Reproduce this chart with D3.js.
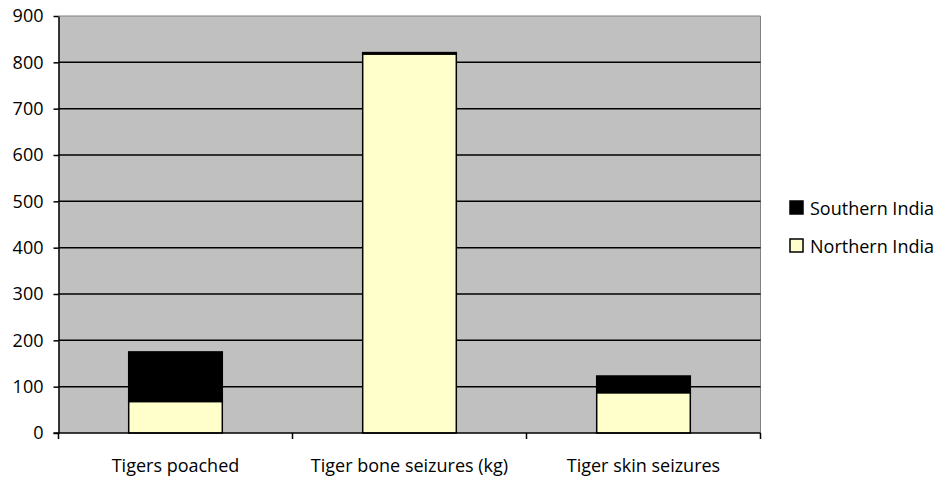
<!DOCTYPE html>
<html><head><meta charset="utf-8">
<script src="https://cdn.jsdelivr.net/npm/d3@7"></script>
<style>body{margin:0;background:#fff}svg{display:block}text{font-family:"Open Sans",Arial,sans-serif;font-size:18px;fill:#000}</style>
</head><body><svg id="c" width="942" height="480"></svg>
<script>
const categories = ["Tigers poached", "Tiger bone seizures (kg)", "Tiger skin seizures"];
const northern = [68, 818, 87];
const southern = [107, 3, 36];
const seriesNames = ["Northern India", "Southern India"];
const yTicks = [0,100,200,300,400,500,600,700,800,900];

const FONT = '"Open Sans",Arial,sans-serif';
const svg = d3.select("#c");
const L=58.5, R=760.5, T=16, B=433;
const x = d3.scaleBand().domain(categories).range([L,R]).paddingInner(0.6).paddingOuter(0.3);
const y = d3.scaleLinear().domain([0,900]).range([B,T]);

svg.append("rect").attr("x",L).attr("y",T).attr("width",R-L).attr("height",B-T).attr("fill","#c0c0c0");
svg.append("path").attr("d",`M${L},${T}H${R}V${B}`).attr("fill","none").attr("stroke","#808080").attr("stroke-width",1);

svg.selectAll(".grid").data(yTicks.filter(d=>d>0&&d<900)).join("line")
  .attr("x1",L).attr("x2",R).attr("y1",d=>y(d)).attr("y2",d=>y(d))
  .attr("stroke","#000").attr("stroke-width",1.5);

const data = categories.map((c,i)=>({c, n:northern[i], s:southern[i]}));
const bw = x.bandwidth();
const g = svg.append("g");
g.selectAll(".n").data(data).join("rect")
  .attr("x",d=>x(d.c)).attr("width",bw).attr("y",d=>y(d.n)).attr("height",d=>y(0)-y(d.n))
  .attr("fill","#ffffcc").attr("stroke","#000").attr("stroke-width",1.5);
g.selectAll(".s").data(data).join("rect")
  .attr("x",d=>x(d.c)).attr("width",bw).attr("y",d=>y(d.n+d.s)).attr("height",d=>y(d.n)-y(d.n+d.s))
  .attr("fill","#000").attr("stroke","#000").attr("stroke-width",1.5);

// y axis
const ya = svg.append("g").attr("transform",`translate(${L},0)`)
  .call(d3.axisLeft(y).tickValues(yTicks).tickSize(5).tickPadding(10).tickSizeOuter(0));
ya.select(".domain").attr("stroke","#000").attr("stroke-width",1.5);
ya.selectAll(".tick line").attr("stroke","#000").attr("stroke-width",1.5);
ya.selectAll("text").style("font-size","18px").style("font-family",FONT).attr("fill","#000");

// x axis
svg.append("line").attr("x1",L-5).attr("x2",R).attr("y1",B).attr("y2",B).attr("stroke","#000").attr("stroke-width",1.5);
const step = (R-L)/categories.length;
svg.selectAll(".xt").data(d3.range(categories.length+1)).join("line")
  .attr("x1",i=>L+i*step).attr("x2",i=>L+i*step).attr("y1",B).attr("y2",B+6)
  .attr("stroke","#000").attr("stroke-width",1.5);
svg.selectAll(".xl").data(categories).join("text")
  .attr("x",d=>x(d)+bw/2).attr("y",472).attr("text-anchor","middle").text(d=>d);

// legend
const leg = [{name:seriesNames[1], fill:"#000"},{name:seriesNames[0], fill:"#ffffcc"}];
const lg = svg.selectAll(".lg").data(leg).join("g").attr("transform",(d,i)=>`translate(790,${201+i*38})`);
lg.append("rect").attr("width",13).attr("height",13).attr("fill",d=>d.fill).attr("stroke","#000").attr("stroke-width",1.5);
lg.append("text").attr("x",20).attr("y",13.5).text(d=>d.name);
</script></body></html>
